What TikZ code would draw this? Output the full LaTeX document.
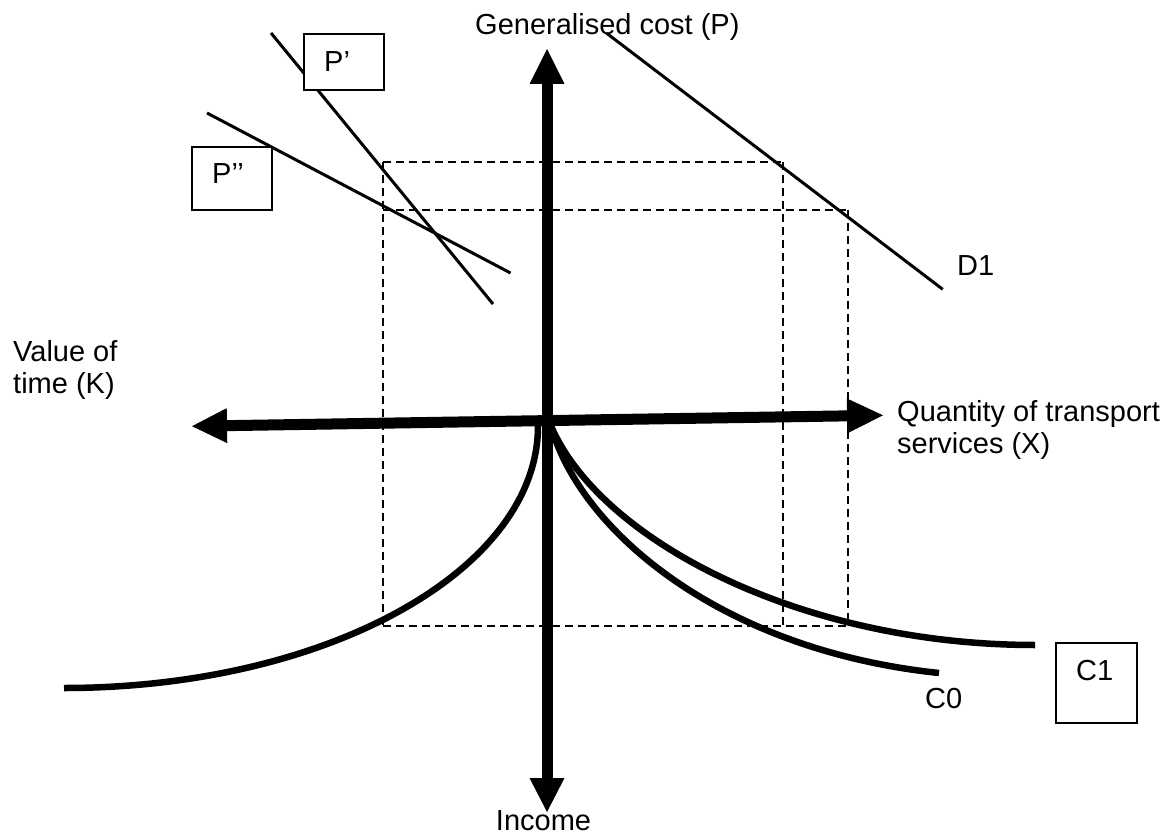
\documentclass[tikz,border=0pt]{standalone}
\usepackage{fontspec}
\setmainfont{Liberation Sans}
\usetikzlibrary{calc}
\begin{document}
\begin{tikzpicture}[x=1pt,y=-1pt,
  axisline/.style={line width=11pt, line cap=butt},
  headfill/.style={fill=black},
  curve/.style={line width=6.5pt},
  thinline/.style={line width=3pt},
  guide/.style={line width=2pt, dash pattern=on 8pt off 5pt},
  lbl/.style={font=\fontsize{29}{31.6}\selectfont, inner sep=0pt, anchor=base west, align=left},
  tbox/.style={draw, line width=2pt, fill=white, inner sep=0pt, anchor=north west}]
\useasboundingbox (0,0) rectangle (1175,834);
\fill[white] (0,0) rectangle (1175,834);

% dashed guides
\coordinate (g1) at (383,161.7);
\coordinate (g2) at (783.3,161.7);
\coordinate (g3) at (383,210);
\coordinate (g4) at (847.7,210);
\coordinate (g5) at (383,626);
\coordinate (g6) at (783.3,626);
\coordinate (g7) at (847.7,626);
\draw[guide] (g1) -- (g2);
\draw[guide] (g3) -- (g4);
\draw[guide] (g1) -- (g5);
\draw[guide] (g2) -- (g6);
\draw[guide] (g4) -- (g7);
\draw[guide] (g5) -- (g7);

% straight lines
\coordinate (p1a) at (271,33);
\coordinate (p1b) at (493,304);
\coordinate (p2a) at (207,113);
\coordinate (p2b) at (510.5,273);
\coordinate (d1a) at (606.7,33.3);
\coordinate (d1b) at (942.7,289.3);
\draw[thinline] (p1a) -- (p1b);
\draw[thinline] (p2a) -- (p2b);
\draw[thinline] (d1a) -- (d1b);

% boxes
\node[tbox, minimum width=80pt, minimum height=56pt,
  label={[lbl, xshift=21pt, yshift=-39pt]north west:P’}] (pbox1) at (303,33) {};
\node[tbox, minimum width=80pt, minimum height=63pt,
  label={[lbl, xshift=21pt, yshift=-38pt]north west:P’’}] (pbox2) at (191,146) {};
\node[tbox, minimum width=81pt, minimum height=80pt,
  label={[lbl, xshift=21pt, yshift=-38pt]north west:C1}] (cbox1) at (1055,642) {};

% curves
\coordinate (lo) at (538,426);
\coordinate (ro) at (551,426);
\coordinate (lend) at (64,688);
\coordinate (c0end) at (939,673);
\coordinate (c1end) at (1035,645);
\draw[curve] (lo) .. controls (538,570.7) and (325.8,688) .. (lend);
\draw[curve] (ro) .. controls (580,530) and (720,650) .. (c0end);
\draw[curve] (ro) .. controls (600,540) and (800,645) .. (c1end);

% axes
\coordinate (LT) at (192,426.2);
\coordinate (RT) at (883,415.3);
\coordinate (LB) at ($(LT)!35pt!(RT)$);
\coordinate (RB) at ($(RT)!36pt!(LT)$);
\coordinate (TT) at (547,49);
\coordinate (TB) at (547,84);
\coordinate (BT) at (547,812);
\coordinate (BB) at (547,778);
\draw[axisline] (LB) -- (RB);
\draw[axisline] (TB) -- (BB);
\fill[headfill] (LT) -- ($(LB)!17.5pt!90:(RT)$) -- ($(LB)!17.5pt!-90:(RT)$) -- cycle;
\fill[headfill] (RT) -- ($(RB)!17.5pt!90:(LT)$) -- ($(RB)!17.5pt!-90:(LT)$) -- cycle;
\fill[headfill] (TT) -- (529.5,84) -- (564.5,84) -- cycle;
\fill[headfill] (BT) -- (529.5,778) -- (564.5,778) -- cycle;

% labels
\node[lbl] (gc) at (475,35) {Generalised cost (P)};
\node[lbl] (vt) at (13,393.3) {Value of\\time (K)};
\node[lbl] (qt) at (897,453.3) {Quantity of transport\\services (X)};
\node[lbl, anchor=base] (inc) at (543.5,830) {Income};
\node[lbl] (d1) at (957,276) {D1};
\node[lbl] (c0) at (925,708) {C0};
\end{tikzpicture}
\end{document}
